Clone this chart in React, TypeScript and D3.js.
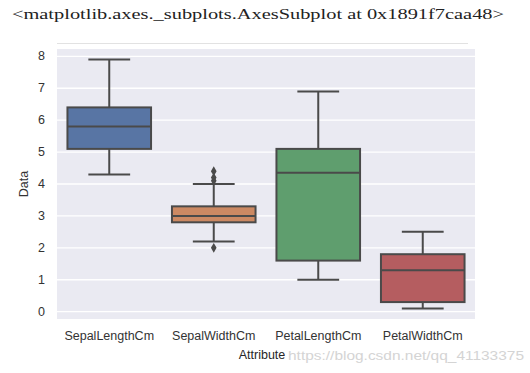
import * as d3 from "d3";

// iris box stats
const attributes = ["SepalLengthCm", "SepalWidthCm", "PetalLengthCm", "PetalWidthCm"];
const whiskerLow = [4.3, 2.2, 1.0, 0.1];
const q1 = [5.1, 2.8, 1.6, 0.3];
const medians = [5.8, 3.0, 4.35, 1.3];
const q3 = [6.4, 3.3, 5.1, 1.8];
const whiskerHigh = [7.9, 4.0, 6.9, 2.5];
const outliers = [[], [4.4, 4.1, 4.2, 2.0], [], []];
const boxColors = ["#5875a4", "#cc8963", "#5f9e6e", "#b55d60"];
const yTicks = [0, 1, 2, 3, 4, 5, 6, 7, 8];

const W = 530,
  H = 373;
const plot = { left: 57, right: 475, top: 49, bottom: 319 };
const lineColor = "#4a4a4a";
const font = "Liberation Sans, Arial, sans-serif";

export default function App() {
  const x = d3.scaleBand().domain(attributes).range([plot.left, plot.right]).padding(0);
  const y = d3.scaleLinear().domain([-0.23, 8.23]).range([plot.bottom, plot.top]);
  const bw = x.bandwidth() * 0.8;

  const diamond = d3.symbol().type(d3.symbolDiamond).size(28)();

  return (
    <svg
      width={W}
      height={H}
      style={{ position: "absolute", left: 0, top: 0, background: "#fff" }}
    >
      <text
        x={12}
        y={19}
        fontFamily="Liberation Serif, serif"
        fontSize={15}
        textLength={492}
        lengthAdjust="spacingAndGlyphs"
        fill="#222"
      >
        {"<matplotlib.axes._subplots.AxesSubplot at 0x1891f7caa48>"}
      </text>
      <line x1={57} x2={468} y1={43.5} y2={43.5} stroke="#e2e2e2" strokeWidth={1} />

      <rect
        x={plot.left}
        y={plot.top}
        width={plot.right - plot.left}
        height={plot.bottom - plot.top}
        fill="#eaeaf2"
      />
      {yTicks.map((t) => (
        <g key={t}>
          <line
            x1={plot.left}
            x2={plot.right}
            y1={y(t)}
            y2={y(t)}
            stroke="#fff"
            strokeWidth={1.4}
          />
          <text
            x={45}
            y={y(t)}
            textAnchor="end"
            dominantBaseline="central"
            fontFamily={font}
            fontSize={12.5}
            fill="#333"
          >
            {t}
          </text>
        </g>
      ))}

      {attributes.map((a, i) => {
        const cx = x(a)! + x.bandwidth() / 2;
        return (
          <g key={a}>
            <line x1={cx} x2={cx} y1={y(q3[i])} y2={y(whiskerHigh[i])} stroke={lineColor} strokeWidth={2} />
            <line x1={cx} x2={cx} y1={y(q1[i])} y2={y(whiskerLow[i])} stroke={lineColor} strokeWidth={2} />
            <line
              x1={cx - bw / 4}
              x2={cx + bw / 4}
              y1={y(whiskerHigh[i])}
              y2={y(whiskerHigh[i])}
              stroke={lineColor}
              strokeWidth={2}
            />
            <line
              x1={cx - bw / 4}
              x2={cx + bw / 4}
              y1={y(whiskerLow[i])}
              y2={y(whiskerLow[i])}
              stroke={lineColor}
              strokeWidth={2}
            />
            <rect
              x={cx - bw / 2}
              y={y(q3[i])}
              width={bw}
              height={y(q1[i]) - y(q3[i])}
              fill={boxColors[i]}
              stroke={lineColor}
              strokeWidth={2}
            />
            <line
              x1={cx - bw / 2}
              x2={cx + bw / 2}
              y1={y(medians[i])}
              y2={y(medians[i])}
              stroke={lineColor}
              strokeWidth={2}
            />
            {outliers[i].map((o, j) => (
              <path key={j} d={diamond!} transform={`translate(${cx},${y(o)})`} fill={lineColor} />
            ))}
            <text
              x={cx}
              y={340}
              textAnchor="middle"
              fontFamily={font}
              fontSize={12.5}
              fill="#333"
            >
              {a}
            </text>
          </g>
        );
      })}

      <text
        transform={`translate(28,${(plot.top + plot.bottom) / 2}) rotate(-90)`}
        textAnchor="middle"
        fontFamily={font}
        fontSize={12.5}
        fill="#333"
      >
        Data
      </text>
      <text
        x={(plot.left + plot.right) / 2 - 4}
        y={359}
        textAnchor="middle"
        fontFamily={font}
        fontSize={12.5}
        fill="#262626"
      >
        Attribute
      </text>
      <text
        x={288}
        y={360}
        fontFamily={font}
        fontSize={13.2}
        textLength={236}
        lengthAdjust="spacingAndGlyphs"
        fill="#d4d4d4"
      >
        https://blog.csdn.net/qq_41133375
      </text>
    </svg>
  );
}
